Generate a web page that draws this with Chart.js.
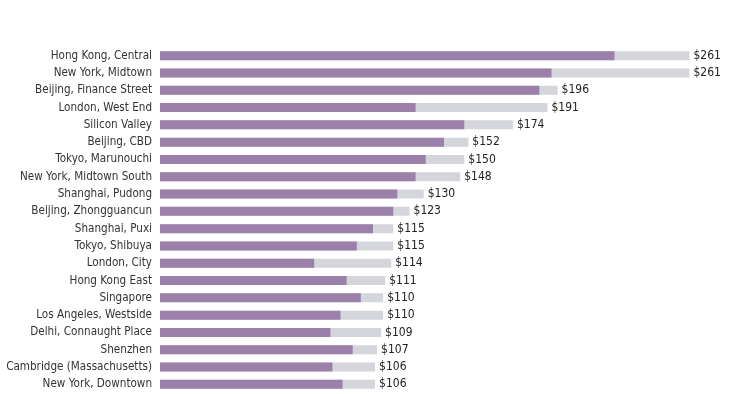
<!DOCTYPE html>
<html>
<head>
<meta charset="utf-8">
<script src="https://cdn.jsdelivr.net/npm/chart.js@4"></script>
<style>
  html, body { margin: 0; padding: 0; background: #fff; }
  #wrap { width: 744px; height: 394px; }
</style>
</head>
<body>
<div id="wrap"><canvas id="chart"></canvas></div>
<script>
const locations = [
  "Hong Kong, Central", "New York, Midtown", "Beijing, Finance Street", "London, West End",
  "Silicon Valley", "Beijing, CBD", "Tokyo, Marunouchi", "New York, Midtown South",
  "Shanghai, Pudong", "Beijing, Zhongguancun", "Shanghai, Puxi", "Tokyo, Shibuya",
  "London, City", "Hong Kong East", "Singapore", "Los Angeles, Westside",
  "Delhi, Connaught Place", "Shenzhen", "Cambridge (Massachusetts)", "New York, Downtown"
];
const totalCost = [261, 261, 196, 191, 174, 152, 150, 148, 130, 123, 115, 115, 114, 111, 110, 110, 109, 107, 106, 106];
const baseRent = [224, 193, 187, 126, 150, 140, 131, 126, 117, 115, 105, 97, 76, 92, 99, 89, 84, 95, 85, 90];

const FONT = "'DejaVu Sans Condensed', 'Roboto', sans-serif";

// writes "$xxx" just past the end of each grey bar
const valueLabels = {
  id: "valueLabels",
  afterDatasetsDraw(chart) {
    const ctx = chart.ctx;
    const meta = chart.getDatasetMeta(1);
    ctx.save();
    ctx.font = "12px " + FONT;
    ctx.fillStyle = "#222";
    ctx.textAlign = "left";
    ctx.textBaseline = "middle";
    meta.data.forEach((bar, i) => {
      ctx.fillText("$" + totalCost[i], bar.x + 4, bar.y);
    });
    ctx.restore();
  }
};

const ctx = document.getElementById("chart").getContext("2d");
new Chart(ctx, {
  type: "bar",
  data: {
    labels: locations,
    datasets: [
      { data: baseRent, backgroundColor: "#9b80aa", grouped: false },
      { data: totalCost, backgroundColor: "#d4d6dc", grouped: false }
    ]
  },
  options: {
    indexAxis: "y",
    responsive: true,
    maintainAspectRatio: false,
    animation: false,
    layout: { padding: { top: 47, bottom: 1, left: 0, right: 16 } },
    datasets: { bar: { barPercentage: 0.52, categoryPercentage: 1 } },
    plugins: { legend: { display: false }, tooltip: { enabled: false } },
    scales: {
      x: { display: false, min: 0, max: 280 },
      y: {
        grid: { display: false },
        border: { display: false },
        ticks: { color: "#333", padding: 0, autoSkip: false, font: { family: FONT, size: 11.6 } },
        afterFit(scale) {
          scale.width = 160;
          scale.paddingTop = 0;
          scale.paddingBottom = 0;
        }
      }
    }
  },
  plugins: [valueLabels]
});
</script>
</body>
</html>
